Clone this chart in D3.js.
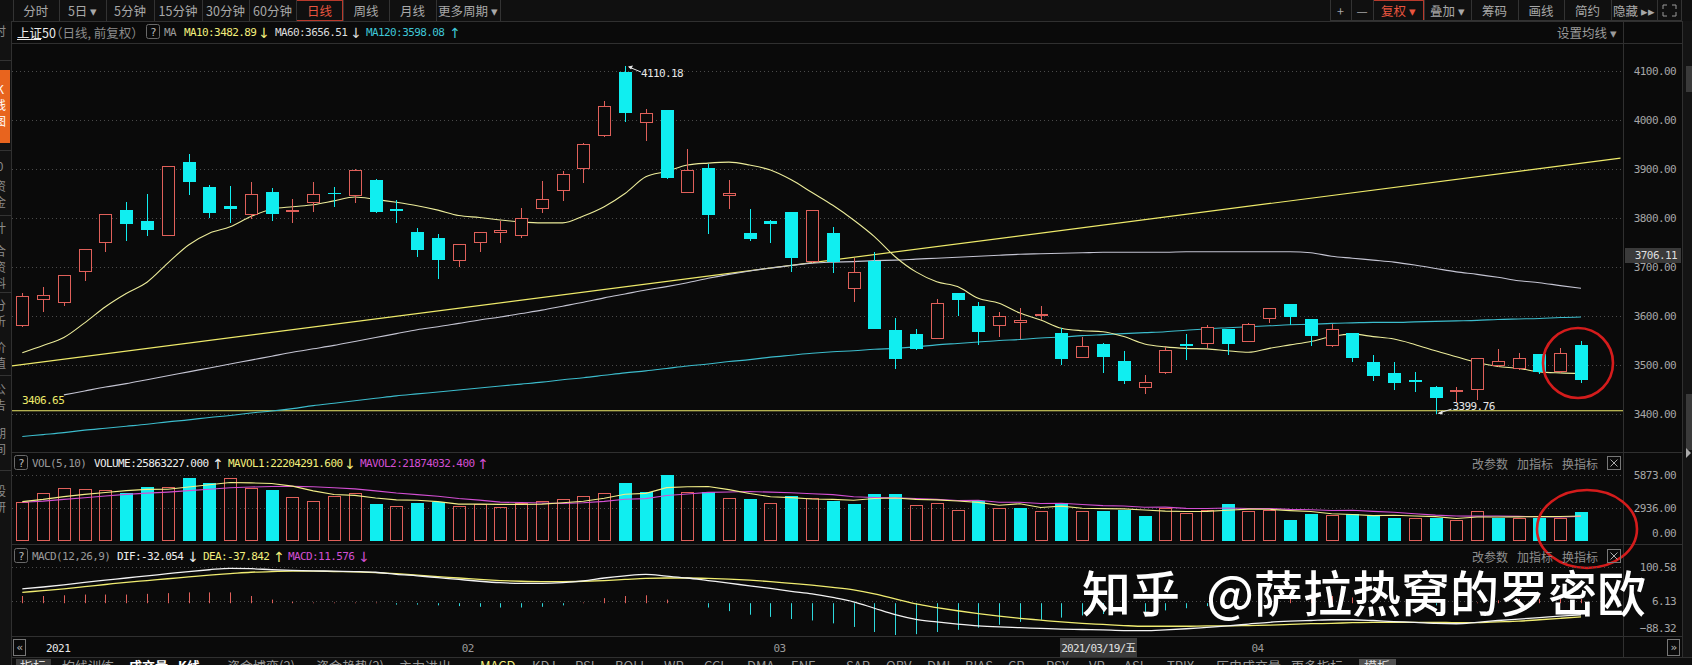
<!DOCTYPE html>
<html><head><meta charset="utf-8">
<script src="https://cdn.jsdelivr.net/npm/d3@7"></script>
<style>
html,body{margin:0;padding:0;background:#0a0a0a;overflow:hidden}
svg{display:block}
</style></head><body>
<svg id="c" width="1692" height="665"></svg>
<script>
// ---------------- DATA ----------------
const openP  = [3580,3632,3627,3689,3750,3816,3794,3764,3914,3864, 3825,3807,3854,3813,3831,3851,3844,3878,3818,3771, 3759,3712,3750,3769,3764,3819,3856,3899,3967,4097, 3993,4020,3852,3902,3844,3769,3794,3812,3710,3769, 3656,3713,3571,3563,3554,3646,3620,3579,3586,3599, 3565,3515,3543,3508,3454,3483,3543,3542,3573,3547, 3593,3624,3593,3539,3565,3506,3483,3469,3456,3444, 3448,3497,3492,3522,3485,3541];
const highP  = [3646,3659,3684,3737,3809,3833,3849,3907,3931,3867, 3866,3873,3861,3838,3874,3864,3901,3879,3836,3779, 3767,3747,3772,3794,3820,3875,3896,3953,4039,4110.18, 4022,4021,3941,3910,3877,3818,3795,3813,3817,3781, 3718,3731,3595,3573,3634,3647,3629,3608,3617,3621, 3575,3558,3544,3529,3479,3536,3563,3582,3574,3586, 3617,3625,3594,3584,3566,3520,3506,3485,3457,3456, 3515,3532,3524,3523,3534,3549];
const lowP   = [3578,3609,3620,3672,3731,3753,3764,3763,3846,3801, 3790,3797,3793,3790,3813,3823,3830,3810,3790,3721, 3676,3701,3731,3748,3760,3810,3835,3872,3966,3996, 3957,3880,3851,3768,3819,3753,3748,3690,3709,3687, 3629,3573,3491,3530,3553,3600,3541,3558,3554,3591, 3499,3514,3483,3461,3441,3482,3510,3534,3520,3546, 3585,3582,3539,3536,3507,3468,3448,3444,3399.76,3425, 3429,3495,3490,3481,3483,3464];
const closeP = [3641,3642,3683,3736,3808,3788,3776,3906,3874,3811, 3819,3849,3809,3816,3848,3848,3898,3812,3815,3735, 3715,3746,3771,3775,3801,3839,3889,3952,4028,4015, 4014,3882,3898,3807,3851,3757,3788,3718,3816,3710, 3689,3574,3512,3533,3626,3633,3568,3599,3592,3605, 3513,3538,3517,3468,3465,3531,3539,3578,3542,3583, 3616,3597,3560,3573,3515,3478,3463,3466,3433,3448, 3514,3509,3515,3486,3524,3469];

const ma10  = [3525,3540,3556,3586,3619,3646,3669,3708,3745,3769, 3782,3803,3818,3823,3827,3835,3843,3838,3832,3825, 3816,3805,3801,3796,3792,3790,3790,3804,3823,3850, 3884,3895,3908,3912,3914,3908,3898,3878,3852,3826, 3796,3762,3721,3690,3670,3660,3636,3626,3606,3592, 3575,3570,3568,3558,3543,3537,3534,3533,3529,3526, 3534,3541,3548,3558,3563,3558,3553,3542,3529,3517, 3505,3497,3493,3486,3484,3482.89];
const ma60  = [null,null,3439,3447,3455,3462,3470,3478,3486,3494, 3502,3510,3518,3526,3533,3540,3548,3556,3564,3572, 3578,3585,3592,3598,3605,3612,3620,3628,3637,3645, 3653,3660,3668,3677,3685,3692,3698,3703,3708,3710, 3711,3713,3714,3716,3718,3720,3722,3724,3726,3727, 3728,3729,3730,3730,3730,3730,3731,3731,3731,3731, 3731,3731,3729,3722,3718,3714,3710,3704,3697,3690, 3685,3679,3672,3668,3662,3656.51];
const ma120 = [3354,3358,3362,3367,3371,3375,3379,3384,3388,3393, 3397,3402,3406,3411,3417,3422,3427,3432,3437,3441, 3445,3449,3453,3457,3461,3465,3470,3474,3479,3484, 3488,3493,3498,3502,3507,3511,3516,3520,3524,3527, 3529,3532,3534,3537,3541,3544,3547,3550,3552,3555, 3557,3560,3562,3564,3566,3568,3571,3574,3576,3578, 3580,3582,3583,3585,3586,3587,3587,3588,3589,3590, 3591,3593,3594,3595,3597,3598.08];

// drawn trend line (index, price) and support line
const trendIdx = [-0.5, 76.9];
const trendVal = [3498, 3922];
const supportLevel = 3406.65;

const volume = [3500,4300,4700,4600,4500,4300,4830,4800,5600,5160, 5600,4700,4500,3900,3600,4000,4300,3300,3100,3400, 3500,3100,3300,3000,3400,3600,3700,4000,4300,5200, 4400,5873,4400,4400,3800,3700,3400,4000,3800,3600, 3300,4200,4200,3200,3400,2800,3600,2900,2900,2700, 3400,2700,2700,2800,2200,2900,2500,2800,3300,2700, 2800,1900,2400,2300,2400,2300,2050,2050,2050,1870, 2700,2050,2050,2050,2050,2586];
const mavol1 = [3500,3700,3950,4150,4320,4480,4590,4610,4810,5010, 5200,5170,5110,4880,4460,4140,4060,3820,3660,3620, 3500,3280,3280,3260,3260,3280,3400,3540,3800,4160, 4240,4750,4830,4850,4570,4230,3940,3860,3740,3700, 3620,3780,3820,3700,3660,3560,3440,3180,3320,2980, 3100,2920,2880,2860,2760,2660,2620,2640,2740,2840, 2820,2700,2620,2420,2360,2260,2290,2220,2170,2000, 2140,2140,2150,2170,2180,2220];
const mavol2 = [3450,3550,3700,3850,4000,4150,4260,4350,4480,4600, 4740,4800,4850,4860,4830,4740,4640,4460,4270,4130, 3980,3780,3640,3460,3420,3380,3340,3410,3530,3710, 3770,4050,4180,4330,4360,4400,4350,4300,4200,4130, 3940,3870,3840,3780,3700,3600,3620,3450,3450,3340, 3360,3250,3150,3110,3000,3010,2900,2890,2930,2890, 2890,2810,2780,2720,2740,2640,2560,2430,2300,2220, 2210,2220,2190,2170,2140,2187];

const dif  = [40,45,51,58,64,70,76,82,88,93, 97,96,93,91,90,89,88,86,80,76, 71,66,61,57,55,55,57,62,70,76, 80,75,70,63,56,48,41,33,26,16, 4,-14,-32,-45,-52,-58,-63,-66,-68,-70, -72,-73,-74,-76,-76,-74,-71,-67,-63,-58, -53,-50,-48,-46,-46,-48,-51,-53,-56,-57, -53,-48,-44,-40,-36,-32.054];
const dea  = [30,35,40,46,52,58,63,68,73,78, 82,86,88,89,89,88,87,85,82,78, 74,70,66,63,61,60,60,61,63,66, 69,70,70,69,67,64,60,55,50,44, 37,26,12,-2,-12,-21,-29,-36,-42,-47, -52,-56,-59,-62,-64,-64,-64,-63,-63,-62, -61,-59,-57,-56,-54,-53,-53,-53,-53,-54, -54,-52,-50,-46,-42,-37.842];
const macdBar = [20,20,22,24,24,24,26,28,30,30, 30,20,10,4,2,2,2,2,-4,-4, -6,-8,-10,-12,-12,-10,-6,2,14,20, 22,10,0,-12,-22,-32,-38,-44,-48,-56, -66,-80,-88.32,-86,-80,-74,-68,-60,-52,-46, -40,-34,-30,-28,-24,-20,-14,-8,0,8, 16,18,18,20,16,10,4,0,-6,-6, 2,8,12,12,12,11.576];

const priceTicks = [3400,3500,3600,3700,3800,3900,4000,4100];
const volTicks = [0,2936,5873];
const macdTicks = [-88.32,6.13,100.58];
const dateTickIdx = [1,21,36,59];
const dateTickLabels = ["2021","02","03","04"];
const cursorIdx = 50, cursorDate = "2021/03/19/五", cursorPrice = "3706.11";
const highIdx = 29, lowIdx = 68;

// ---------------- SETUP ----------------
const W=1692,H=665;
const MONO = "'DejaVu Sans Mono', 'Liberation Mono', monospace";
const CJK = "'Noto Sans CJK SC', 'Noto Sans', sans-serif";
const RED = "#e0605a", CYAN = "#10eef0";
const svg = d3.select('#c');
svg.append('rect').attr('width',W).attr('height',H).attr('fill','#0a0a0a');
const N = closeP.length;
const idx = d3.range(N);
const x  = d3.scaleLinear().domain([0,75]).range([22.3,1581]);
const yP = d3.scaleLinear().domain([3400,4100]).range([414,71]);
const yV = d3.scaleLinear().domain([0,5873]).range([541,475]);
const yM = d3.scaleLinear().domain([-88.32,100.58]).range([635,567]);

const defs = svg.append('defs');
function clip(id,x0,y0,w,h){defs.append('clipPath').attr('id',id).append('rect').attr('x',x0).attr('y',y0).attr('width',w).attr('height',h);}
clip('clipMain',12,44,1611,408);
clip('clipVol',12,470,1611,73);
clip('clipMacd',12,562,1611,74);
clip('clipSide',0,0,11,H);
clip('clipBottom',0,658,W,7);

function mono(g, s, xx, yy, col, anchor){
  return g.append('text').attr('x',xx).attr('y',yy).attr('fill',col)
   .attr('font-family',MONO).attr('font-size',11).attr('letter-spacing',-0.6)
   .attr('text-anchor',anchor||'start').attr('dominant-baseline','central').text(s);
}
function arrow(g, s, xx, yy, col){
  return g.append('text').attr('x',xx).attr('y',yy+0.5).attr('fill',col)
   .attr('font-family',"'DejaVu Sans', sans-serif").attr('font-size',14)
   .attr('text-anchor','middle').attr('dominant-baseline','central').text(s);
}
function cjk(g, s, xx, yy, col, size, anchor){
  return g.append('text').attr('x',xx).attr('y',yy).attr('fill',col)
   .attr('font-family',CJK).attr('font-size',size||12.5)
   .attr('text-anchor',anchor||'start').attr('dominant-baseline','central').text(s);
}
function hline(y,x1,x2,col){svg.append('line').attr('x1',x1).attr('x2',x2).attr('y1',y).attr('y2',y).attr('stroke',col||'#2c2c2c');}
function vline(xx,y1,y2,col){svg.append('line').attr('x1',xx).attr('x2',xx).attr('y1',y1).attr('y2',y2).attr('stroke',col||'#2c2c2c');}

// ---------------- TOOLBAR ----------------
svg.append('rect').attr('x',0).attr('y',0).attr('width',W).attr('height',21).attr('fill','#101010');
const tb = svg.append('g');
const seps = [12.5,59,106,154,202,249,296,343,389,436,500];
seps.forEach(s=>vline(Math.round(s)+0.5,0,21,'#333'));
const tbLabels = ["分时","5日 ▾","5分钟","15分钟","30分钟","60分钟","日线","周线","月线","更多周期 ▾"];
tbLabels.forEach((l,k)=>{
  const cx=(seps[k]+seps[k+1])/2;
  cjk(tb,l,cx,10.5,k===6?'#e8553f':'#a8a8a8',12.5,'middle');
});
tb.append('rect').attr('x',296.5).attr('y',0.5).attr('width',46).attr('height',20).attr('fill','none').attr('stroke','#b83a2c');
// right toolbar
const rs = [1330,1351,1373,1424,1471,1518,1564,1611,1657,1681];
rs.forEach(s=>vline(s+0.5,0,21,'#333'));
hline(20.5,1330,1682,'#333');
const rl = ["+","—","复权 ▾","叠加 ▾","筹码","画线","简约","隐藏 ▸▸",""];
rl.forEach((l,k)=>{ if(l) cjk(tb,l,(rs[k]+rs[k+1])/2,10.5,k===2?'#e8553f':'#a8a8a8',12.5,'middle'); });
tb.append('rect').attr('x',1373.5).attr('y',0.5).attr('width',50).attr('height',20).attr('fill','none').attr('stroke','#b83a2c');
const fi = tb.append('g').attr('stroke','#999').attr('fill','none');
[[1663,5,1,0,0,1],[1676,5,-1,0,0,1],[1663,16,1,0,0,-1],[1676,16,-1,0,0,-1]].forEach(a=>{
  fi.append('path').attr('d',`M${a[0]+a[2]*4},${a[1]} L${a[0]},${a[1]} L${a[0]},${a[1]+a[5]*4}`);
});

// ---------------- FRAME ----------------
hline(21.5,0,W,'#303030');
hline(43.5,12,1682,'#303030');
hline(452.5,12,1682,'#303030');
hline(544.5,12,1682,'#303030');
hline(636.5,12,1682,'#303030');
hline(657.5,0,W,'#303030');
vline(11.5,21,665,'#303030');
vline(1623.5,21,657,'#303030');
vline(1682.5,21,657,'#303030');

// left sidebar
const side = svg.append('g').attr('clip-path','url(#clipSide)');
side.append('rect').attr('x',0).attr('y',21).attr('width',11).attr('height',644).attr('fill','#121212');
side.append('rect').attr('x',0).attr('y',70).attr('width',10).attr('height',73).attr('fill','#e8641e');
[["时",30],["K",88],["线",104],["图",120],["0",165],["资",185],["金",201],["计",227],["合",250],["资",266],["料",282],["分",304],["析",320],["价",346],["值",362],["公",388],["告",404],["期",432],["间",448],["股",490],["研",506]].forEach(d=>{
  cjk(side,d[0],0,d[1],d[1]>=70&&d[1]<=143?'#fff':'#8a8a8a',12,'middle');
});
[60,150,215,292,375,470].forEach(y=>side.append('line').attr('x1',0).attr('x2',11).attr('y1',y+0.5).attr('y2',y+0.5).attr('stroke','#333'));

// right scrollbar
svg.append('rect').attr('x',1683).attr('y',21).attr('width',9).attr('height',636).attr('fill','#141414');
svg.append('rect').attr('x',1686).attr('y',66).attr('width',6).attr('height',26).attr('fill','#3a3a3a');
svg.append('rect').attr('x',1686).attr('y',394).attr('width',6).attr('height',56).attr('fill','#3a3a3a');
svg.append('path').attr('d','M1686,448 L1691,453 L1686,458 Z').attr('fill','#aaa');

// ---------------- INFO ROW ----------------
const info = svg.append('g');
cjk(info,"上证50",17,32,'#ececec',12.5);
info.append('line').attr('x1',17).attr('x2',41).attr('y1',39.5).attr('y2',39.5).attr('stroke','#ececec');
cjk(info,"（日线, 前复权）",50,32,'#8c8c8c',12.5);
function qbox(g,xx,yy){
  g.append('rect').attr('x',xx+0.5).attr('y',yy-7.5).attr('width',13).attr('height',14).attr('rx',2).attr('fill','none').attr('stroke','#6a6a6a');
  mono(g,"?",xx+7,yy,'#bbb','middle');
}
qbox(info,146,32);
mono(info,"MA",164,32,'#9a9a9a');
mono(info,"MA10:3482.89",184,32,'#f2ee7c');
arrow(info,"↓",264,32,'#f2ee7c');
mono(info,"MA60:3656.51",275,32,'#dcdcdc');
arrow(info,"↓",356,32,'#dcdcdc');
mono(info,"MA120:3598.08",366,32,'#3fc6d6');
arrow(info,"↑",455,32,'#3fc6d6');
cjk(info,"设置均线 ▾",1557,32,'#9a9a9a',12.5);

// ---------------- MAIN PRICE PANEL ----------------
const grid = svg.append('g');
priceTicks.forEach(t=>grid.append('line').attr('x1',12).attr('x2',1623).attr('y1',Math.round(yP(t))+0.5).attr('y2',Math.round(yP(t))+0.5).attr('stroke','#4a4a4a').attr('stroke-dasharray','1,3'));

const pAxis = d3.axisLeft(yP).tickValues(priceTicks).tickFormat(d3.format('.2f')).tickSize(0).tickPadding(0);
const pa = svg.append('g').attr('transform','translate(1676,0)').call(pAxis);
pa.select('.domain').remove();
pa.selectAll('text').attr('font-family',MONO).attr('font-size',11).attr('letter-spacing',-0.6).attr('fill','#a6a6a6').attr('dy','0.35em');
svg.append('rect').attr('x',1625).attr('y',248).attr('width',56).attr('height',15).attr('fill','#3a3a3a');
mono(svg,cursorPrice,1677,255.5,'#dedede','end');

const main = svg.append('g').attr('clip-path','url(#clipMain)');
main.append('line').attr('x1',12).attr('x2',1623).attr('y1',yP(supportLevel)).attr('y2',yP(supportLevel)).attr('stroke','#eeea6a').attr('stroke-width',1.2);
const trendData = trendIdx.map((t,k)=>[t,trendVal[k]]);
main.append('path').attr('d',d3.line().x(d=>x(d[0])).y(d=>yP(d[1]))(trendData)).attr('stroke','#eeea6a').attr('stroke-width',1.2).attr('fill','none');
function maLine(arr,col,w){
  main.append('path').datum(idx).attr('fill','none').attr('stroke',col).attr('stroke-width',w||1)
   .attr('d',d3.line().defined(i=>arr[i]!=null).x(i=>x(i)).y(i=>yP(arr[i])).curve(d3.curveMonotoneX));
}
maLine(ma120,'#3cbccc',1.1);
maLine(ma60,'#c4c4d2',1.1);
maLine(ma10,'#ecec9a',1.1);

const cg = main.append('g').selectAll('g').data(idx).join('g');
cg.each(function(i){
  const g = d3.select(this);
  const up = closeP[i] >= openP[i];
  const cx = Math.round(x(i));
  const top = Math.round(yP(Math.max(openP[i],closeP[i])));
  const bot = Math.round(yP(Math.min(openP[i],closeP[i])));
  const hy = Math.round(yP(highP[i])), ly = Math.round(yP(lowP[i]));
  const bh = Math.max(1,bot-top);
  if(up){
    if(hy<top) g.append('line').attr('x1',cx+0.5).attr('x2',cx+0.5).attr('y1',hy).attr('y2',top).attr('stroke',RED);
    if(ly>top+bh) g.append('line').attr('x1',cx+0.5).attr('x2',cx+0.5).attr('y1',top+bh).attr('y2',ly).attr('stroke',RED);
    g.append('rect').attr('x',cx-6+0.5).attr('y',top+0.5).attr('width',12).attr('height',Math.max(0.5,bh-1)).attr('fill','#0a0a0a').attr('stroke',RED);
  } else {
    g.append('line').attr('x1',cx+0.5).attr('x2',cx+0.5).attr('y1',hy).attr('y2',ly).attr('stroke',CYAN);
    g.append('rect').attr('x',cx-6).attr('y',top).attr('width',13).attr('height',bh).attr('fill',CYAN);
  }
});

const hx = x(highIdx), hyv = yP(highP[highIdx]);
main.append('line').attr('x1',hx+16).attr('y1',hyv+6).attr('x2',hx+4).attr('y2',hyv+1).attr('stroke','#e6e6e6');
main.append('path').attr('d',`M${hx+3},${hyv+0.5} l5,-1 l-2,4 z`).attr('fill','#e6e6e6');
mono(main,d3.format('.2f')(highP[highIdx]),hx+16,hyv+7,'#e6e6e6');
const lx = x(lowIdx), lyv = yP(lowP[lowIdx]);
main.append('line').attr('x1',lx+16).attr('y1',lyv-5).attr('x2',lx+3).attr('y2',lyv-1).attr('stroke','#e6e6e6');
main.append('path').attr('d',`M${lx+2},${lyv-0.5} l5,-3 l0,4 z`).attr('fill','#e6e6e6');
mono(main,d3.format('.2f')(lowP[lowIdx]),lx+17,lyv-8,'#e6e6e6');
mono(main,d3.format('.2f')(supportLevel),22,yP(supportLevel)-10,'#eeea6a');

svg.append('ellipse').attr('cx',1578).attr('cy',363).attr('rx',35).attr('ry',35).attr('fill','none').attr('stroke','#d41c1c').attr('stroke-width',2.6);

// ---------------- VOLUME PANEL ----------------
const vh = svg.append('g');
qbox(vh,14,463);
mono(vh,"VOL(5,10)",32,463,'#9a9a9a');
mono(vh,"VOLUME:25863227.000",94,463,'#eeeeee');
arrow(vh,"↑",218,463,'#eeeeee');
mono(vh,"MAVOL1:22204291.600",228,463,'#f2ee7c');
arrow(vh,"↓",350,463,'#f2ee7c');
mono(vh,"MAVOL2:21874032.400",360,463,'#d24fd2');
arrow(vh,"↑",483,463,'#d24fd2');
function panelBtns(yy){
  cjk(svg,"改参数",1472,yy,'#8e8e8e',12);
  cjk(svg,"加指标",1517,yy,'#8e8e8e',12);
  cjk(svg,"换指标",1562,yy,'#8e8e8e',12);
  svg.append('rect').attr('x',1607.5).attr('y',yy-6.5).attr('width',13).attr('height',13).attr('fill','none').attr('stroke','#777');
  svg.append('path').attr('d',`M${1610.5},${yy-3.5} l7,7 M${1617.5},${yy-3.5} l-7,7`).attr('stroke','#aaa');
}
panelBtns(463);
[2936,5873].forEach(t=>svg.append('line').attr('x1',12).attr('x2',1623).attr('y1',Math.round(yV(t))+0.5).attr('y2',Math.round(yV(t))+0.5).attr('stroke','#4a4a4a').attr('stroke-dasharray','1,3'));
const vAxis = d3.axisLeft(yV).tickValues(volTicks).tickFormat(d3.format('.2f')).tickSize(0).tickPadding(0);
const va = svg.append('g').attr('transform','translate(1676,0)').call(vAxis);
va.select('.domain').remove();
va.selectAll('text').attr('font-family',MONO).attr('font-size',11).attr('letter-spacing',-0.6).attr('fill','#a6a6a6').attr('dy',d=>d===0?'-0.45em':'0.35em');

const vol = svg.append('g').attr('clip-path','url(#clipVol)');
vol.selectAll('g').data(idx).join('g').each(function(i){
  const g = d3.select(this);
  const up = i===0 ? closeP[i]>=openP[i] : closeP[i]>=closeP[i-1];
  const cx = Math.round(x(i));
  const top = Math.round(yV(volume[i])), bot = Math.round(yV(0));
  if(up) g.append('rect').attr('x',cx-6+0.5).attr('y',top+0.5).attr('width',12).attr('height',bot-top-1).attr('fill','none').attr('stroke',RED);
  else g.append('rect').attr('x',cx-6).attr('y',top).attr('width',13).attr('height',bot-top).attr('fill',CYAN);
});
vol.append('path').datum(idx).attr('fill','none').attr('stroke','#d24fd2').attr('stroke-width',1.1)
  .attr('d',d3.line().x(i=>x(i)).y(i=>yV(mavol2[i])));
vol.append('path').datum(idx).attr('fill','none').attr('stroke','#f2ee88').attr('stroke-width',1.1)
  .attr('d',d3.line().x(i=>x(i)).y(i=>yV(mavol1[i])));

svg.append('ellipse').attr('cx',1587).attr('cy',529).attr('rx',50).attr('ry',39).attr('fill','none').attr('stroke','#d41c1c').attr('stroke-width',2.6);

// ---------------- MACD PANEL ----------------
const mh = svg.append('g');
qbox(mh,14,556);
mono(mh,"MACD(12,26,9)",32,556,'#9a9a9a');
mono(mh,"DIF:-32.054",117,556,'#eeeeee');
arrow(mh,"↓",193,556,'#eeeeee');
mono(mh,"DEA:-37.842",203,556,'#f2ee7c');
arrow(mh,"↑",279,556,'#f2ee7c');
mono(mh,"MACD:11.576",288,556,'#d24fd2');
arrow(mh,"↓",364,556,'#d24fd2');
panelBtns(556);
[100.58,6.13].forEach(t=>svg.append('line').attr('x1',12).attr('x2',1623).attr('y1',Math.round(yM(t))+0.5).attr('y2',Math.round(yM(t))+0.5).attr('stroke','#4a4a4a').attr('stroke-dasharray','1,3'));
const mAxis = d3.axisLeft(yM).tickValues(macdTicks).tickFormat(d3.format('.2f')).tickSize(0).tickPadding(0);
const ma = svg.append('g').attr('transform','translate(1676,0)').call(mAxis);
ma.select('.domain').remove();
ma.selectAll('text').attr('font-family',MONO).attr('font-size',11).attr('letter-spacing',-0.6).attr('fill','#a6a6a6').attr('dy',d=>d<0?'-0.3em':'0.35em');

const mg = svg.append('g').attr('clip-path','url(#clipMacd)');
mg.selectAll('line').data(idx).join('line')
  .attr('x1',i=>Math.round(x(i))+0.5).attr('x2',i=>Math.round(x(i))+0.5)
  .attr('y1',yM(0)).attr('y2',i=>yM(macdBar[i]))
  .attr('stroke',i=>macdBar[i]>=0?RED:'#2ed8dc').attr('stroke-width',1);
mg.append('path').datum(idx).attr('fill','none').attr('stroke','#f0ec70').attr('stroke-width',1.3)
  .attr('d',d3.line().x(i=>x(i)).y(i=>yM(dea[i])).curve(d3.curveMonotoneX));
mg.append('path').datum(idx).attr('fill','none').attr('stroke','#f2f2f2').attr('stroke-width',1.3)
  .attr('d',d3.line().x(i=>x(i)).y(i=>yM(dif[i])).curve(d3.curveMonotoneX));

// ---------------- DATE AXIS ----------------
svg.append('rect').attr('x',13.5).attr('y',639.5).attr('width',12).attr('height',16).attr('fill','none').attr('stroke','#777');
mono(svg,"«",19.5,647.5,'#bbb','middle');
svg.append('rect').attr('x',1667.5).attr('y',639.5).attr('width',12).attr('height',16).attr('fill','none').attr('stroke','#777');
mono(svg,"»",1673.5,647.5,'#bbb','middle');
dateTickIdx.forEach((d,k)=>mono(svg,dateTickLabels[k],x(d)+3,648,k===0?'#e8e8e8':'#9a9a9a'));
svg.append('rect').attr('x',Math.round(x(cursorIdx))-1).attr('y',638).attr('width',77).attr('height',19).attr('fill','#3a3a3a');
svg.append('text').attr('x',x(cursorIdx)+37).attr('y',648).attr('fill','#e0e0e0').attr('font-family',MONO+", 'Noto Sans CJK SC'").attr('font-size',11).attr('letter-spacing',-0.8).attr('text-anchor','middle').attr('dominant-baseline','central').text(cursorDate);

// ---------------- BOTTOM TABS ----------------
const bt = svg.append('g').attr('clip-path','url(#clipBottom)');
bt.append('rect').attr('x',12).attr('y',658).attr('width',W).attr('height',7).attr('fill','#0e0e0e');
bt.append('rect').attr('x',16).attr('y',659).attr('width',35).attr('height',8).attr('fill','#3c3c3c');
bt.append('rect').attr('x',1359).attr('y',659).attr('width',37).attr('height',8).attr('fill','#505050');
[["指标",20,'#ddd'],["均线训练",62,'#999'],["成交量",129,'#fff'],["K线",178,'#fff'],["资金博弈(2)",227,'#999'],["资金趋势(2)",316,'#999'],["主力进出",399,'#999'],["MACD",480,'#f2ee7c'],["KDJ",532,'#999'],["RSI",575,'#999'],["BOLL",615,'#999'],["WR",664,'#999'],["CCI",704,'#999'],["DMA",747,'#999'],["ENE",791,'#999'],["SAR",846,'#999'],["OBV",886,'#999'],["DMI",927,'#999'],["BIAS",965,'#999'],["CR",1008,'#999'],["PSY",1046,'#999'],["VR",1089,'#999'],["ASI",1124,'#999'],["TRIX",1167,'#999'],["历史成交量",1216,'#999'],["更多指标",1291,'#999'],["模板",1364,'#ddd']].forEach(d=>{
  bt.append('text').attr('x',d[1]).attr('y',671).attr('fill',d[2]).attr('font-family',CJK).attr('font-size',13).attr('font-weight',d[2]==='#fff'?700:400).text(d[0]);
});

// ---------------- WATERMARK ----------------
svg.append('text').attr('x',1082).attr('y',612).attr('fill','#ffffff').attr('font-family',CJK).attr('font-size',49).attr('font-weight',500).text("知乎");
svg.append('text').attr('x',1646).attr('y',612).attr('fill','#ffffff').attr('font-family',CJK).attr('font-size',49).attr('font-weight',500).attr('text-anchor','end').text("@萨拉热窝的罗密欧");
</script>
</body></html>
